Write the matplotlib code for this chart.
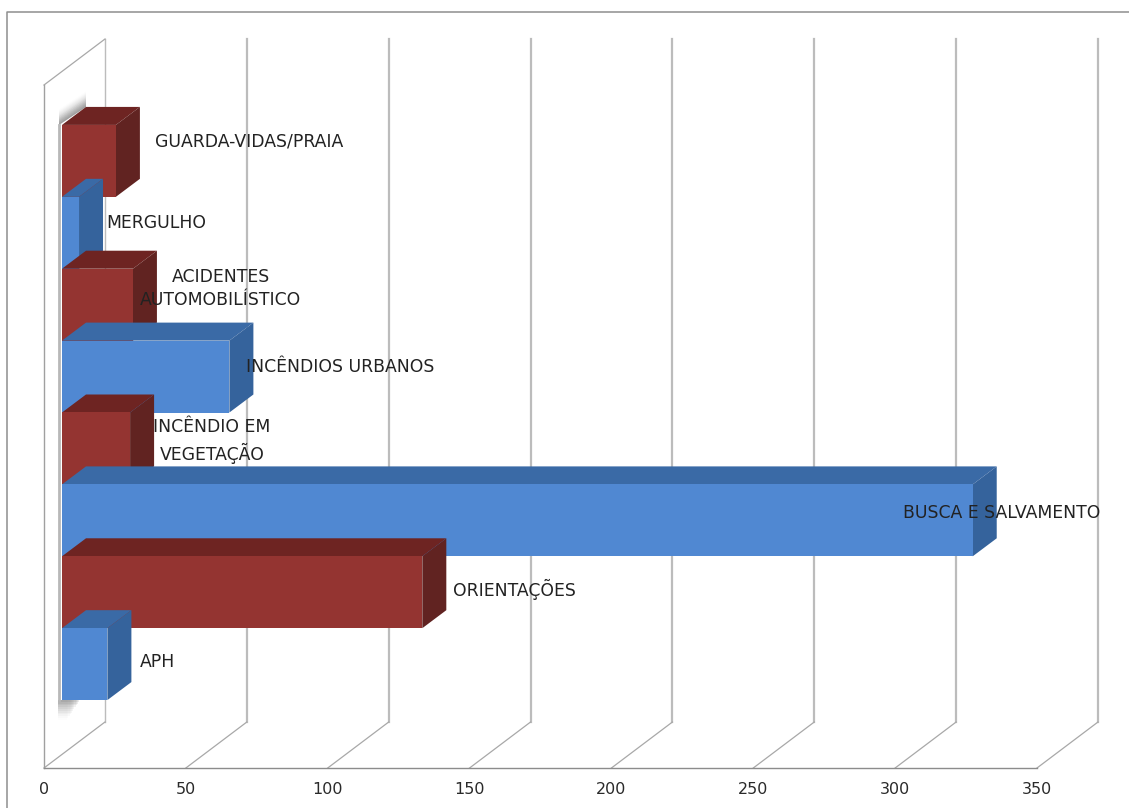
#!/usr/bin/env python3
"""3D-look horizontal bar chart, occurrences by type"""

import numpy as np
import matplotlib
matplotlib.use('Agg')
import matplotlib.pyplot as plt
from matplotlib.lines import Line2D
from matplotlib.patches import Polygon
from matplotlib.transforms import Affine2D

plt.rcParams['font.family'] = ['DejaVu Sans']

# bottom to top, as on the axis
categories = ['APH', 'ORIENTAÇÕES', 'BUSCA E SALVAMENTO', 'INCÊNDIO EM\nVEGETAÇÃO',
              'INCÊNDIOS URBANOS', 'ACIDENTES\nAUTOMOBILÍSTICO', 'MERGULHO', 'GUARDA-VIDAS/PRAIA']
values = [16, 127, 321, 24, 59, 25, 6, 19]
x_ticks = [0, 50, 100, 150, 200, 250, 300, 350]

# label offset from the bar end, pixels
label_dx = [50, 92, 29, 82, 111, 88, 77, 133]
label_dy = [2, 3, 7, 7, 10, 16, 10, 19]

BLUE = ('#5088d2', '#35639c', '#3a6aa6')   # front, side, top
RED = ('#943431', '#612321', '#6e2422')

W, H = 1129, 808
fig = plt.figure(figsize=(W / 100, H / 100), dpi=100)
ax = fig.add_axes([44 / W, 1 - 768 / H, 993 / W, 683 / H])
ax.set_xlim(0, 350)
ax.set_ylim(-1.25, 8.25)
ax.patch.set_alpha(0)

px_x = 993 / 350
px_y = 683 / 9.5


def shifted(dx, dy):
    return ax.transData + Affine2D().translate(dx, dy)


back = shifted(61, 46)
plane = shifted(18, 14)

# outer chart frame, only top and left are in the picture
frame = '#8e8e8e'
fig.add_artist(Line2D([7 / W, 7 / W, 1], [0, 1 - 12 / H, 1 - 12 / H], color=frame, lw=1.1))

# walls and grid
ymin, ymax = ax.get_ylim()
for v in x_ticks:
    lw = 1.0 if v == 0 else 1.6
    ax.plot([v, v], [ymin, ymax], color='#bcbcbc', lw=lw, transform=back, clip_on=False, zorder=1)
    x0, y0 = ax.transData.transform((v, ymin))
    x1, y1 = back.transform((v, ymin))
    ax.plot([x0, x1], [y0, y1], color='#a8a8a8', lw=0.9, transform=None, clip_on=False, zorder=1)
x0, y0 = ax.transData.transform((0, ymax))
x1, y1 = back.transform((0, ymax))
ax.plot([x0, x1], [y0, y1], color='#a8a8a8', lw=0.9, transform=None, clip_on=False, zorder=1)

# shadow behind the bars, on the wall
n = len(values)
for k in range(12):
    a = 0.18 * (1 - k / 12)
    lift = k * 1.4 / px_y
    ax.add_patch(Polygon([(-3 / px_x, n - 0.5), (24 / px_x, n - 0.5 + 18 / px_y),
                          (24 / px_x, n - 0.5 + 18 / px_y + lift), (-3 / px_x, n - 0.5 + lift)],
                         closed=True, fc='#707070', ec='none', alpha=a,
                         transform=plane, clip_on=False, zorder=1.5))
    wide = (4 + 1.2 * (12 - k)) / px_x
    low = k * 1.8 / px_y
    ax.add_patch(Polygon([(-4 / px_x, -0.5), (wide, -0.5), (wide, -0.5 - low), (-4 / px_x, -0.5 - low)],
                         closed=True, fc='#707070', ec='none', alpha=a * 0.8,
                         transform=plane, clip_on=False, zorder=1.5))
ax.plot([-1.2, -1.2], [-0.5, n - 0.5], color='#b8b8b8', lw=2.0, transform=plane, zorder=1.6)

# bars, upper ones first so the lower ones overlap them
dv = 24 / px_x
dc = 18 / px_y
for i in range(n - 1, -1, -1):
    v = values[i]
    front, side, top = BLUE if i in (0, 2, 4, 6) else RED
    z = 3 + (n - i)
    ax.add_patch(Polygon([(0, i + 0.5), (v, i + 0.5), (v + dv, i + 0.5 + dc), (dv, i + 0.5 + dc)],
                         closed=True, fc=top, ec='none', transform=plane, clip_on=False, zorder=z))
    ax.add_patch(Polygon([(v, i - 0.5), (v + dv, i - 0.5 + dc), (v + dv, i + 0.5 + dc), (v, i + 0.5)],
                         closed=True, fc=side, ec='none', transform=plane, clip_on=False, zorder=z))
    ax.barh(i, v, height=1, color=front, linewidth=0, transform=plane, clip_on=False, zorder=z)

# labels
for i, name in enumerate(categories):
    ax.annotate(name, xy=(values[i], i), xycoords=plane,
                xytext=(label_dx[i] * 0.72, label_dy[i] * 0.72), textcoords='offset points',
                ha='center', va='center', fontsize=12.4, color='#222222',
                linespacing=1.4, zorder=20, annotation_clip=False)

ax.set_xticks(x_ticks)
ax.set_yticks([])
ax.tick_params(axis='x', length=0, pad=10, labelsize=11.5, labelcolor='#2a2a2a')
for s in ('top', 'right'):
    ax.spines[s].set_visible(False)
ax.spines['left'].set_color('#a0a0a0')
ax.spines['bottom'].set_color('#8c8c8c')
ax.spines['left'].set_linewidth(1.0)
ax.spines['bottom'].set_linewidth(1.0)

fig.savefig('out.png', dpi=100)
